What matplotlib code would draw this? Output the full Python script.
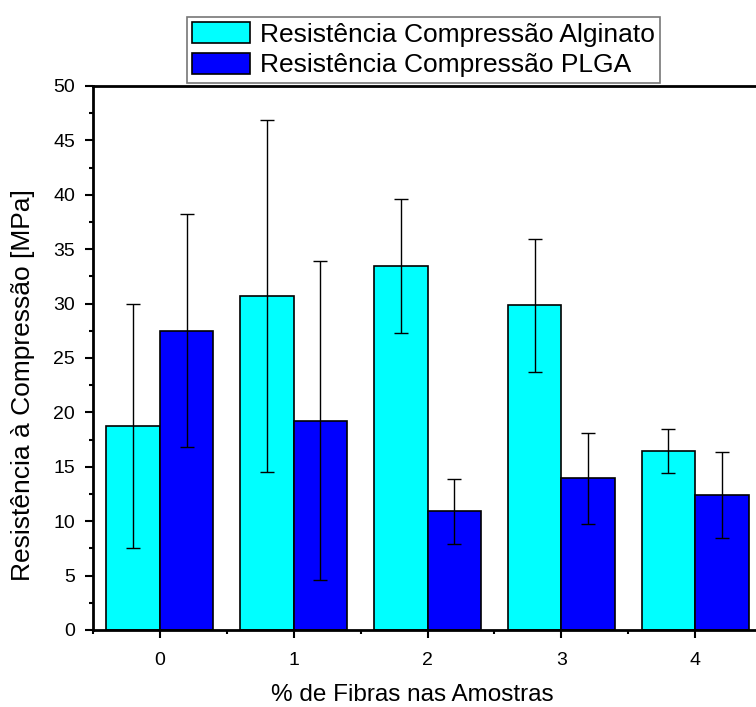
import matplotlib
matplotlib.use("Agg")
import matplotlib.pyplot as plt
import numpy as np
from matplotlib.ticker import MultipleLocator

plt.rcParams['font.family'] = ['Liberation Sans', 'DejaVu Sans']

categories = [0, 1, 2, 3, 4]
alginato = [18.75, 30.7, 33.45, 29.85, 16.45]
alginato_err = [11.25, 16.2, 6.15, 6.1, 2.05]
plga = [27.5, 19.25, 10.9, 13.95, 12.4]
plga_err = [10.7, 14.65, 3.0, 4.2, 3.95]
labels = ["Resistência Compressão Alginato", "Resistência Compressão PLGA"]

fig = plt.figure(figsize=(7.56, 7.07), dpi=100)
ax = fig.add_axes([93/756, 1-630/707, (762-93)/756, (630-86)/707])

x = np.array(categories, dtype=float)
w = 0.4
b1 = ax.bar(x - w/2, alginato, w, color='#00FFFF', edgecolor='black', linewidth=1.2, label=labels[0], zorder=2)
b2 = ax.bar(x + w/2, plga, w, color='#0000FF', edgecolor='black', linewidth=1.2, label=labels[1], zorder=2)
ax.errorbar(x - w/2, alginato, yerr=alginato_err, fmt='none', ecolor='black', elinewidth=1, capsize=5, capthick=1, zorder=3)
ax.errorbar(x + w/2, plga, yerr=plga_err, fmt='none', ecolor='black', elinewidth=1, capsize=5, capthick=1, zorder=3)

ax.set_xlim(-0.5, 4.5)
ax.set_ylim(0, 50)
ax.set_xticks(categories)
ax.xaxis.set_minor_locator(MultipleLocator(0.5))
ax.yaxis.set_major_locator(MultipleLocator(5))
ax.yaxis.set_minor_locator(MultipleLocator(2.5))
ax.tick_params(which='major', direction='out', length=6, width=1.5, labelsize=14)
ax.tick_params(which='minor', direction='out', length=3, width=1.5)
ax.tick_params(axis='x', which='major', pad=10)
ax.tick_params(axis='y', which='major', pad=7)
for s in ['left', 'bottom', 'top']:
    ax.spines[s].set_linewidth(2)
ax.spines['right'].set_visible(False)

ax.set_xlabel("% de Fibras nas Amostras", fontsize=17.5)
ax.xaxis.set_label_coords((412-93)/669, -(695-630)/544)
ax.set_ylabel("Resistência à Compressão [MPa]", fontsize=19)
ax.yaxis.set_label_coords(-(93-23)/669, (630-385)/544)
ax.xaxis.label.set_va('center')
ax.yaxis.label.set_va('center')

leg = fig.legend(handles=[b1, b2], labels=labels, loc='upper left',
                 bbox_to_anchor=(187/756, 1-17/707), fontsize=19,
                 frameon=True, fancybox=False, edgecolor='#555555',
                 borderpad=0.2, labelspacing=0.22, handlelength=2.2, handleheight=0.85,
                 handletextpad=0.35, borderaxespad=0)
leg.get_frame().set_linewidth(1.2)

fig.savefig("out.png", dpi=100)
